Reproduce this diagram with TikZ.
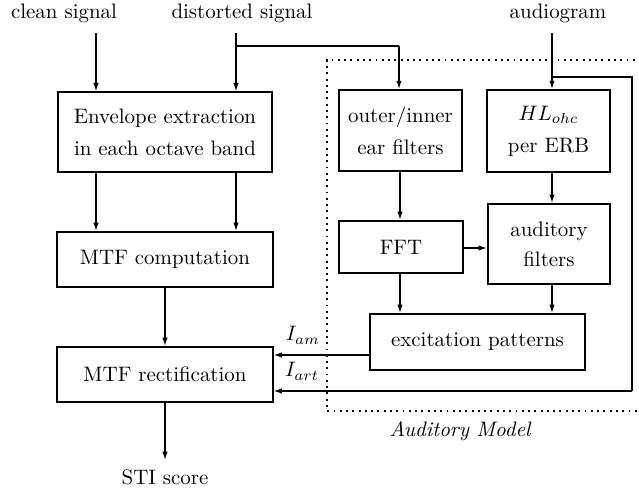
\documentclass[tikz,border=0pt]{standalone}
\usetikzlibrary{arrows.meta}
\begin{document}
\begin{tikzpicture}[x=0.478pt,y=-0.478pt,
  blk/.style={draw,line width=0.95pt,rectangle,inner sep=0pt,align=center},
  conn/.style={line width=0.65pt,-{Latex[length=4pt,width=2.6pt]}},
  line/.style={line width=0.65pt},
  lbl/.style={anchor=base,inner sep=0pt}]
\useasboundingbox (0,0) rectangle (639,493);
% boxes
\node[blk,line width=0.65pt,minimum width=102.3pt,minimum height=38.2pt] (env) at (165,132) {Envelope extraction\\[3.4pt]in each octave band};
\node[blk,minimum width=102.8pt,minimum height=26.3pt] (mtfc) at (165,259.5) {MTF computation};
\node[blk,minimum width=102.8pt,minimum height=26.3pt] (mtfr) at (165,374.5) {MTF rectification};
\node[blk,line width=0.8pt,minimum width=58.8pt,minimum height=38.7pt] (oi) at (400.5,130.5) {outer/inner\\[3.4pt]ear filters};
\node[blk,line width=0.8pt,minimum width=58.8pt,minimum height=39.2pt] (hl) at (548.5,131) {$HL_{ohc}$\\[3.4pt]per ERB};
\node[blk,minimum width=59.3pt,minimum height=24.9pt] (fft) at (401,247) {FFT};
\node[blk,minimum width=58.3pt,minimum height=38.2pt] (af) at (549,244) {auditory\\[2.4pt]filters};
\node[blk,minimum width=102.8pt,minimum height=26.8pt] (exc) at (477.5,342) {excitation patterns};
% labels
\node[lbl] (clean) at (64,19) {clean signal};
\node[lbl] (dist) at (242,19) {distorted signal};
\node[lbl] (aud) at (558,19) {audiogram};
\node[lbl] (sti) at (165,485) {STI score};
\node[lbl] (am) at (460,437) {\itshape Auditory Model};
\node[lbl] (iam) at (303,341) {$I_{am}$};
\node[lbl] (iart) at (302,377) {$I_{art}$};
% coordinates
\coordinate (c0) at (96,33);
\coordinate (d0) at (236,33);
\coordinate (d1) at (236,46);
\coordinate (d2) at (399,46);
\coordinate (a0) at (552,33);
\coordinate (a1) at (552,77);
\coordinate (a2) at (632,77);
\coordinate (a3) at (632,391);
\coordinate (s0) at (165,460);
\coordinate (e1) at (96,0);
\coordinate (e2) at (236,0);
\coordinate (f1) at (400,0);
\coordinate (h1) at (552,0);
\coordinate (r1) at (0,248);
\coordinate (r2) at (0,355);
% dotted frame
\draw[line width=0.9pt,dash pattern=on 0.9pt off 2.1pt] (641,60) -- (327,60) -- (327,411) -- (641,411);
% connectors
\draw[conn] (c0) -- (c0 |- env.north);
\draw[conn] (d0) -- (d0 |- env.north);
\draw[line] (d1) -- (d2);
\draw[conn] (d2) -- (d2 |- oi.north);
\draw[conn] (a0) -- (a0 |- hl.north);
\draw[line] (a1) -- (a2) -- (a3);
\draw[conn] (a3) -- (a3 -| mtfr.east);
\draw[conn] (e1 |- env.south) -- (e1 |- mtfc.north);
\draw[conn] (e2 |- env.south) -- (e2 |- mtfc.north);
\draw[conn] (mtfc.south) -- (mtfc.south |- mtfr.north);
\draw[conn] (mtfr.south) -- (s0);
\draw[conn] (f1 |- oi.south) -- (f1 |- fft.north);
\draw[conn] (h1 |- hl.south) -- (h1 |- af.north);
\draw[conn] (r1 -| fft.east) -- (r1 -| af.west);
\draw[conn] (f1 |- fft.south) -- (f1 |- exc.north);
\draw[conn] (h1 |- af.south) -- (h1 |- exc.north);
\draw[conn] (r2 -| exc.west) -- (r2 -| mtfr.east);
\end{tikzpicture}
\end{document}
